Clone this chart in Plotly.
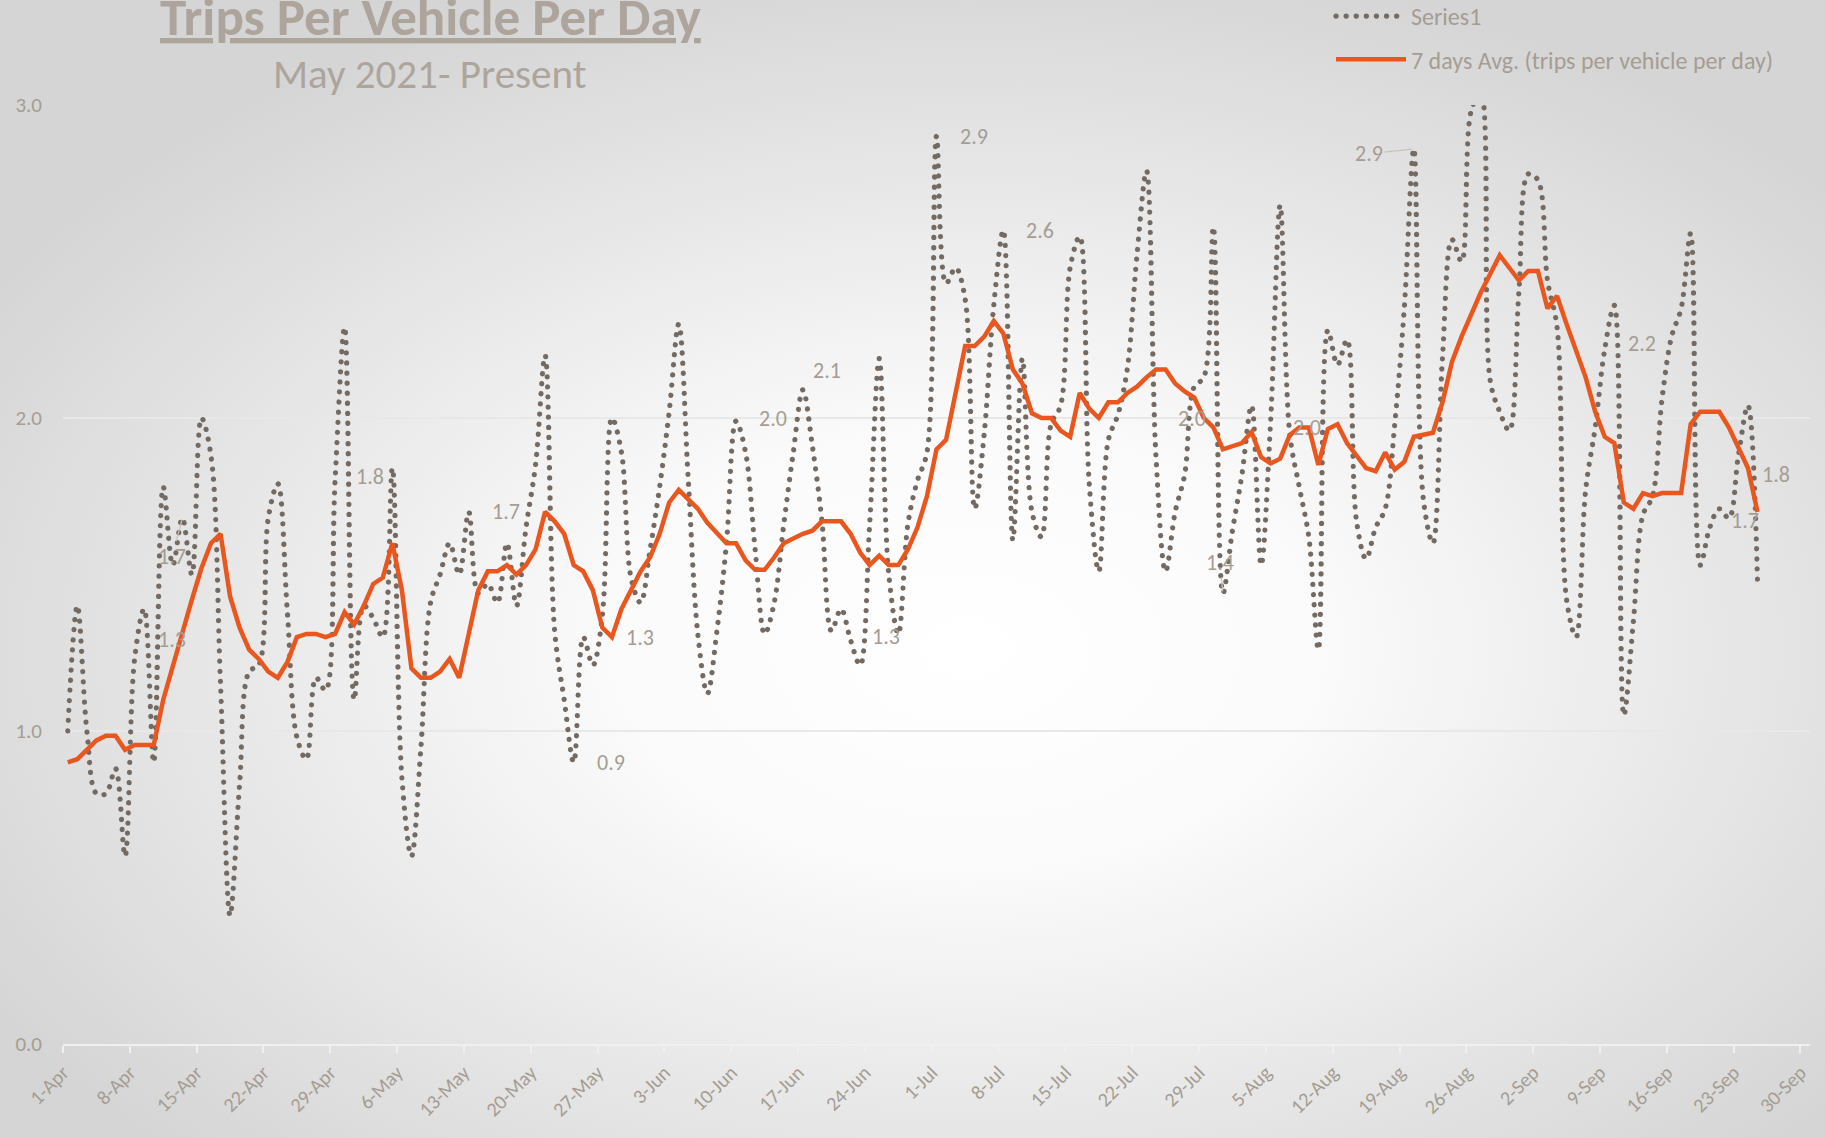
import base64
import pandas as pd
import plotly.graph_objects as go

# ---------------- data ----------------
start_date = "2021-04-01 12:00"

series1 = [
    1.00, 1.40, 1.00, 0.80, 0.80, 0.88, 0.60, 1.23, 1.39, 0.90,
    1.78, 1.53, 1.68, 1.50, 2.00, 1.88, 1.15, 0.41, 0.83, 1.19,
    1.21, 1.68, 1.79, 1.38, 0.98, 0.91, 1.17, 1.13, 1.80, 2.29,
    1.10, 1.40, 1.36, 1.30, 1.84, 0.85, 0.60, 0.95, 1.41, 1.50,
    1.60, 1.50, 1.70, 1.44, 1.47, 1.41, 1.60, 1.40, 1.65, 1.85,
    2.20, 1.32, 1.10, 0.90, 1.30, 1.21, 1.37, 2.00, 1.89, 1.49,
    1.41, 1.58, 1.78, 2.02, 2.30, 1.80, 1.31, 1.12, 1.32, 1.60,
    1.99, 1.89, 1.58, 1.31, 1.41, 1.66, 1.89, 2.09, 1.91, 1.67,
    1.32, 1.39, 1.29, 1.21, 1.66, 2.19, 1.50, 1.31, 1.66, 1.80,
    1.89, 2.90, 2.43, 2.48, 2.38, 1.71, 1.95, 2.36, 2.60, 1.61,
    2.19, 1.70, 1.62, 1.98, 2.04, 2.48, 2.58, 1.79, 1.51, 1.93,
    2.01, 2.16, 2.52, 2.79, 1.87, 1.51, 1.70, 1.82, 2.10, 2.13,
    2.61, 1.44, 1.64, 1.82, 2.04, 1.53, 1.99, 2.68, 1.95, 1.78,
    1.62, 1.26, 2.28, 2.17, 2.25, 1.67, 1.55, 1.65, 1.71, 1.98,
    2.35, 2.86, 1.74, 1.60, 2.19, 2.57, 2.50, 2.98, 3.04, 2.12,
    2.02, 1.96, 2.40, 2.78, 2.76, 2.44, 2.29, 1.42, 1.30, 1.77,
    1.97, 2.22, 2.36, 1.05, 1.35, 1.69, 1.75, 2.06, 2.26, 2.35,
    2.59, 1.53, 1.65, 1.71, 1.68, 1.88, 2.04, 1.48,
]

avg7 = [
    0.90, 0.91, 0.94, 0.97, 0.985, 0.985, 0.94, 0.955, 0.955, 0.955,
    1.10, 1.21, 1.32, 1.42, 1.52, 1.60, 1.63, 1.43, 1.33, 1.26,
    1.23, 1.19, 1.17, 1.22, 1.30, 1.31, 1.31, 1.30, 1.31, 1.38,
    1.34, 1.40, 1.47, 1.49, 1.60, 1.45, 1.20, 1.17, 1.17, 1.19,
    1.23, 1.17, 1.31, 1.45, 1.51, 1.51, 1.53, 1.50, 1.53, 1.58,
    1.70, 1.67, 1.63, 1.53, 1.51, 1.45, 1.33, 1.30, 1.39, 1.45,
    1.51, 1.555, 1.63, 1.73, 1.77, 1.74, 1.71, 1.665, 1.63, 1.60,
    1.60, 1.545, 1.515, 1.515, 1.555, 1.60, 1.615, 1.63, 1.64, 1.67,
    1.67, 1.67, 1.63, 1.57, 1.53, 1.56, 1.53, 1.53, 1.58, 1.65,
    1.75, 1.90, 1.93, 2.08, 2.23, 2.23, 2.26, 2.31, 2.27, 2.155,
    2.11, 2.015, 2.00, 2.00, 1.96, 1.94, 2.08, 2.03, 2.00, 2.05,
    2.05, 2.08, 2.10, 2.13, 2.155, 2.155, 2.11, 2.085, 2.065, 2.00,
    1.97, 1.90, 1.91, 1.92, 1.955, 1.875, 1.855, 1.87, 1.945, 1.97,
    1.97, 1.85, 1.965, 1.98, 1.92, 1.88, 1.84, 1.83, 1.89, 1.835,
    1.86, 1.94, 1.946, 1.953, 2.05, 2.18, 2.26, 2.33, 2.40, 2.46,
    2.52, 2.48, 2.44, 2.47, 2.47, 2.35, 2.39, 2.30, 2.21, 2.13,
    2.02, 1.94, 1.92, 1.73, 1.71, 1.76, 1.75, 1.76, 1.76, 1.76,
    1.98, 2.02, 2.02, 2.02, 1.97, 1.905, 1.84, 1.70,
]

series_names = ["Series1", "7 days Avg. (trips per vehicle per day)"]
title_text = "Trips Per Vehicle Per Day"
subtitle_text = "May 2021- Present"

# labelled points: (series key, index)
label_points = [
    ("avg", 12), ("s1", 12), ("s1", 34), ("avg", 50), ("avg", 57),
    ("s1", 53), ("s1", 70), ("s1", 77), ("s1", 87), ("s1", 91),
    ("s1", 98), ("avg", 119), ("s1", 121), ("avg", 130), ("s1", 141),
    ("s1", 161), ("avg", 176), ("avg", 177),
]
# label placement offsets in px (dx, dy up), and whether a leader line is drawn
label_offsets = [
    (-10, -9, False), (-10, -38, True), (-22, -8, False), (-39, 0, False), (28, 0, False),
    (37, 0, False), (37, 3, False), (24, 19, False), (-12, -3, False), (37, 0, False),
    (37, 0, False), (-12, 0, False), (-3, 31, True), (-2, 0, False), (-45, -5, True),
    (37, 6, False), (28, -6, False), (-12, -9, False),
]

# ---------------- layout constants ----------------
W, H = 1825, 1138
ML, MR, MT, MB = 63, 15, 105, 94
PW, PH = W - ML - MR, H - MT - MB

TXT = "#A59D93"
DOT = "#746A61"
ORANGE = "#E9561E"
FONT = "Carlito, Lato, 'Open Sans', sans-serif"

dates = pd.date_range(start_date, periods=len(series1), freq="D")
data_map = {"s1": series1, "avg": avg7}


def px_x(px):
    return (px - ML) / PW


def px_y(py):
    return (H - MB - py) / PH


fig = go.Figure()
fig.add_trace(go.Scatter(
    x=dates, y=series1, mode="lines", name=series_names[0],
    line=dict(color=DOT, width=5.2, dash="5px,5px", shape="spline", smoothing=1.0),
    legendgroup="g1", hoverinfo="skip",
))
fig.add_trace(go.Scatter(
    x=dates, y=avg7, mode="lines", name=series_names[1],
    line=dict(color=ORANGE, width=4.5),
    legendgroup="g2", hoverinfo="skip",
))

annotations = []
for (key, idx), (dx, dy, lead) in zip(label_points, label_offsets):
    val = data_map[key][idx]
    a = dict(x=dates[idx], y=val, xref="x", yref="y", text=f"{val:.1f}",
             font=dict(family=FONT, size=22, color=TXT))
    if lead:
        a.update(showarrow=True, arrowhead=0, arrowwidth=1.2, arrowcolor="#C9C2BA",
                 ax=dx, ay=-dy, standoff=2)
    else:
        a.update(showarrow=False, xshift=dx, yshift=dy)
    annotations.append(a)

annotations.append(dict(
    x=px_x(430), y=px_y(17), xref="paper", yref="paper",
    text=f"<u><b>{title_text}</b></u>", showarrow=False, xanchor="center", yanchor="middle",
    font=dict(family=FONT, size=53, color="#ADA59C"),
))
annotations.append(dict(
    x=px_x(430), y=px_y(74), xref="paper", yref="paper",
    text=subtitle_text, showarrow=False, xanchor="center", yanchor="middle",
    font=dict(family=FONT, size=41, color="#ADA59C"),
))

svg = (
    f'<svg xmlns="http://www.w3.org/2000/svg" width="{W}" height="{H}">'
    '<defs><radialGradient id="g" cx="0.53" cy="0.57" r="0.62">'
    '<stop offset="0" stop-color="#ffffff"/>'
    '<stop offset="0.3" stop-color="#fbfbfb"/>'
    '<stop offset="1" stop-color="#d5d5d5"/>'
    '</radialGradient></defs>'
    f'<rect width="{W}" height="{H}" fill="url(#g)"/></svg>'
)
uri = "data:image/svg+xml;base64," + base64.b64encode(svg.encode()).decode()

fig.update_layout(
    width=W, height=H, autosize=False,
    margin=dict(l=ML, r=MR, t=MT, b=MB, pad=0, autoexpand=False),
    paper_bgcolor="#dedede", plot_bgcolor="rgba(0,0,0,0)",
    font=dict(family=FONT, color=TXT, size=18),
    images=[dict(source=uri, xref="paper", yref="paper", x=-ML / PW, y=(H - MB) / PH,
                 sizex=W / PW, sizey=H / PH, xanchor="left", yanchor="top",
                 sizing="stretch", layer="below")],
    annotations=annotations,
    showlegend=True,
    legend=dict(x=px_x(1331), y=px_y(-6), xanchor="left", yanchor="top",
                bgcolor="rgba(0,0,0,0)", font=dict(family=FONT, size=24, color=TXT),
                itemwidth=70, tracegroupgap=9, traceorder="grouped"),
    hovermode=False,
)
fig.update_xaxes(
    type="date", range=["2021-04-01", "2021-10-01"], tick0="2021-04-01", dtick=7 * 86400000,
    tickformat="%-d-%b", tickangle=-45, ticks="outside", ticklen=7, tickwidth=2,
    tickcolor="#F0F0F0", showline=True, linecolor="#F0F0F0", linewidth=2,
    showgrid=False, zeroline=False, tickfont=dict(family=FONT, size=20, color=TXT),
)
fig.update_yaxes(
    range=[0, 3], dtick=1, tick0=0, tickformat=".1f", showgrid=True,
    gridcolor="#E8E8E8", gridwidth=2, zeroline=False, showline=False,
    ticklabelstandoff=20, tickfont=dict(family=FONT, size=21, color=TXT),
)

post = """
document.body.style.margin='0';
document.querySelectorAll('path.js-line').forEach(function(p){
  var d = p.style.strokeDasharray;
  if (d && d !== 'none') {
    p.style.strokeLinecap = 'round';
    p.style.strokeDasharray = '0.1px, 10px';
  }
});
"""

fig.write_html("out.html", config={"displayModeBar": False}, post_script=post)
